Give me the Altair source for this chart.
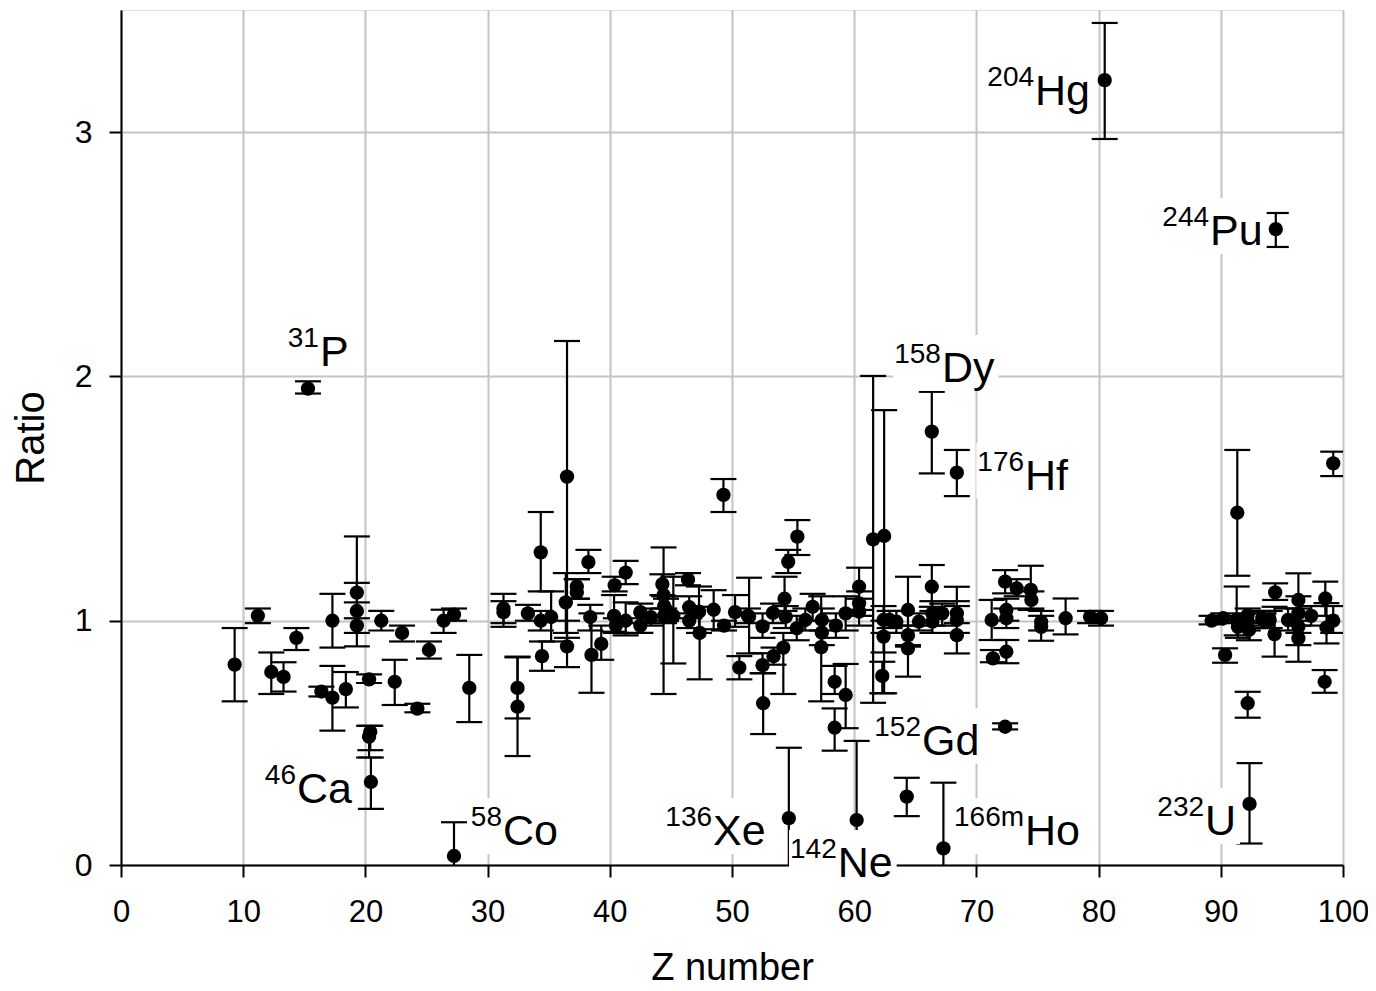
import altair as alt
import pandas as pd

# ---- data ----
z = [9.3, 11.2, 12.3, 13.3, 14.35, 15.3, 16.4, 17.3, 17.3, 18.4, 19.3, 19.3, 19.3, 20.3, 20.4, 20.3, 20.45,
     21.3, 22.4, 23.0, 24.25, 25.2, 26.4, 27.25, 27.25, 28.5,
     31.3, 31.3, 32.45, 32.45, 33.3, 34.35, 34.35, 34.45, 35.2, 36.5, 36.4, 36.5, 37.3, 37.3, 38.25, 38.4, 38.5,
     39.3, 40.4, 40.35, 40.5, 41.3, 41.3, 42.5, 42.5, 43.35, 44.3, 44.4, 44.45, 44.45, 44.6, 45.2, 46.4, 46.5,
     46.5, 47.3, 47.35, 48.5, 49.3, 49.35, 50.25, 50.6, 51.4, 51.3, 52.5, 52.5, 52.55, 53.35, 53.4, 54.2, 54.3,
     54.4, 54.6, 54.65, 55.35, 55.3, 56.0, 56.6, 57.35, 57.35, 57.3, 58.5, 58.4, 58.4, 59.3, 59.3, 60.2, 60.4,
     60.4, 60.4, 61.55, 62.45, 62.4, 62.4, 62.3, 62.9, 63.45, 64.4, 64.4, 64.4, 64.3, 65.3, 66.35, 66.35, 66.4,
     66.4, 67.2, 67.3, 68.4, 68.4, 68.4, 68.4, 71.25, 71.35, 72.35, 72.45, 72.45, 72.45, 72.35, 73.3, 74.45,
     74.5, 75.3, 75.3, 77.3, 79.3, 80.2, 80.5,
     89.25, 90.2, 90.35, 91.35, 91.3, 91.4, 92.2, 92.2, 92.3, 92.2, 92.35, 93.4, 93.5, 94.0, 94.5, 94.45, 94.4,
     95.5, 96.35, 96.35, 96.35, 96.35, 97.4, 98.55, 98.65, 98.5, 99.2, 99.2]
ratio = [0.82, 1.02, 0.79, 0.77, 0.93, 1.95, 0.71, 0.685, 1.00, 0.72, 1.115, 1.04, 0.98, 0.76, 0.545, 0.525, 0.34,
         1.00, 0.75, 0.95, 0.64, 0.88, 1.00, 1.025, 0.037, 0.725,
         1.05, 1.035, 0.725, 0.648, 1.03, 1.28, 1.00, 0.855, 1.015, 1.59, 1.075, 0.895, 1.14, 1.115, 1.24, 1.015, 0.86,
         0.905, 1.145, 1.02, 0.98, 1.197, 1.0, 1.035, 0.98, 1.015, 1.15, 1.105, 1.06, 1.02, 1.045, 1.02, 1.168, 1.055,
         1.0, 1.037, 0.95, 1.045, 1.515, 0.98, 1.035, 0.808, 1.016, 1.02, 0.977, 0.818, 0.662, 1.032, 0.855, 0.89, 1.09,
         1.016, 1.241, 0.192, 1.344, 0.969, 1.003, 1.057, 1.003, 0.951, 0.892, 0.98, 0.75, 0.562, 1.03, 0.696, 0.184, 1.139,
         1.071, 1.037, 1.333, 1.347, 1.003, 0.935, 0.774, 1.003, 0.996, 1.044, 0.941, 0.887, 0.28, 0.996, 1.774, 1.139, 1.03,
         0.996, 1.03, 0.068, 1.606, 1.03, 1.003, 0.941, 1.003, 0.846, 1.16, 1.044, 1.01, 0.873, 0.566, 1.132, 1.126,
         1.085, 0.996, 0.975, 1.01, 1.016, 1.01, 3.213,
         1.0, 1.01, 0.86, 1.442, 1.003, 0.975, 0.996, 1.023, 0.962, 0.662, 0.25, 1.01, 1.003, 1.003, 2.603, 1.116, 0.945,
         1.003, 1.085, 1.03, 0.975, 0.928, 1.02, 1.091, 0.972, 0.75, 1.0, 1.644]
lo = [0.67, 0.99, 0.70, 0.71, 0.88, 1.93, 0.69, 0.55, 0.89, 0.645, 1.075, 0.895, 0.95, 0.745, 0.47, 0.44, 0.23,
      0.96, 0.655, 0.915, 0.625, 0.845, 0.95, 1.0, -0.1, 0.585,
      0.975, 0.99, 0.60, 0.446, 1.0, 1.12, 0.96, 0.795, 0.915, 0.93, 0.95, 0.81, 1.09, 1.09, 1.195, 0.96, 0.705,
      0.84, 1.12, 0.955, 0.95, 1.15, 0.94, 0.99, 0.95, 0.98, 1.105, 0.70, 1.02, 0.99, 1.0, 0.825, 1.145, 1.01,
      0.97, 0.95, 0.76, 0.965, 1.445, 0.96, 0.975, 0.76, 0.866, 0.99, 0.93, 0.785, 0.536, 0.99, 0.82, 0.70, 1.04,
      0.97, 1.195, -0.1, 1.269, 0.92, 0.96, 1.0, 0.96, 0.90, 0.67, 0.93, 0.70, 0.468, 0.96, 0.56, -0.1, 1.044,
      1.02, 0.98, 0.664, 0.703, 0.95, 0.87, 0.703, 0.97, 0.95, 0.894, 0.90, 0.771, 0.2, 0.96, 1.603, 1.057, 0.98,
      0.95, 0.98, -0.1, 1.51, 0.99, 0.95, 0.866, 0.921, 0.83, 1.112, 1.0, 0.97, 0.826, 0.555, 1.10, 1.044,
      1.05, 0.96, 0.918, 0.944, 0.99, 0.98, 2.972,
      0.985, 0.99, 0.828, 1.184, 0.94, 0.93, 0.96, 0.99, 0.92, 0.603, 0.088, 0.98, 0.97, 0.97, 2.53, 1.085, 0.853,
      0.96, 0.98, 0.95, 0.90, 0.832, 0.98, 1.02, 0.907, 0.705, 0.95, 1.592]
hi = [0.97, 1.05, 0.87, 0.83, 0.97, 1.98, 0.73, 0.815, 1.11, 0.79, 1.155, 1.345, 1.01, 0.78, 0.57, 0.57, 0.44,
      1.04, 0.84, 0.98, 0.66, 0.915, 1.045, 1.05, 0.175, 0.86,
      1.11, 1.08, 0.853, 0.85, 1.065, 1.445, 1.04, 0.915, 1.12, 2.145, 1.195, 1.0, 1.17, 1.17, 1.29, 1.065, 1.03,
      0.98, 1.18, 1.105, 1.01, 1.245, 1.075, 1.07, 1.01, 1.05, 1.19, 1.30, 1.10, 1.05, 1.09, 1.18, 1.195, 1.10,
      1.03, 1.14, 1.057, 1.125, 1.58, 1.0, 1.105, 0.855, 1.176, 1.05, 1.03, 0.867, 0.785, 1.07, 0.89, 0.95, 1.18,
      1.06, 1.29, 0.48, 1.412, 1.02, 1.05, 1.11, 1.05, 1.0, 1.1, 1.03, 0.815, 0.641, 1.10, 0.823, 0.508, 1.217,
      1.12, 1.09, 2.002, 1.862, 1.06, 1.0, 0.832, 1.04, 1.04, 1.18, 0.98, 0.98, 0.357, 1.03, 1.937, 1.228, 1.08,
      1.04, 1.07, 0.337, 1.699, 1.08, 1.06, 1.139, 1.085, 0.88, 1.207, 1.09, 1.05, 0.921, 0.58, 1.17, 1.225,
      1.12, 1.04, 1.02, 1.091, 1.04, 1.04, 3.447,
      1.02, 1.03, 0.887, 1.699, 1.14, 1.02, 1.03, 1.05, 1.0, 0.709, 0.417, 1.04, 1.03, 1.04, 2.669, 1.153, 1.057,
      1.05, 1.194, 1.10, 1.05, 1.0, 1.06, 1.160, 1.072, 0.798, 1.06, 1.692]

# annotation labels: mass number (superscript), element, anchor position
lab_mass = ["204", "244", "31", "158", "176", "152", "46", "58", "136", "142", "166m", "232"]
lab_elem = ["Hg", "Pu", "P", "Dy", "Hf", "Gd", "Ca", "Co", "Xe", "Ne", "Ho", "U"]
lab_x = [74.8, 89.12, 16.28, 67.18, 73.98, 65.55, 14.4, 31.26, 48.45, 58.65, 73.98, 88.71]
lab_y = [3.111, 2.538, 2.043, 1.977, 1.535, 0.450, 0.254, 0.082, 0.082, -0.049, 0.082, 0.123]

# ---- layout ----
W, H = 1222, 855
XMAX, YMAX = 100, 3.5
SUP_FS, EL_FS = 28, 43
px_x = W / XMAX
px_y = H / YMAX

cw = {"H": .722, "g": .556, "P": .667, "u": .556, "D": .722, "y": .5, "f": .278, "G": .778, "d": .556,
      "C": .722, "a": .556, "o": .556, "X": .667, "e": .556, "N": .722, "m": .833, "U": .722}


def tw(s, fs):
    return sum(cw.get(c, .556) for c in s) * fs


df = pd.DataFrame({"z": z, "ratio": ratio, "lo": lo, "hi": hi})
lab = pd.DataFrame({"mass": lab_mass, "elem": lab_elem, "x": lab_x, "y": lab_y})
lab["bx1"] = lab["x"] - (lab["mass"].map(lambda s: tw(s, SUP_FS)) + 2) / px_x
lab["bx2"] = lab["x"] + (lab["elem"].map(lambda s: tw(s, EL_FS)) + 4) / px_x
lab["by1"] = lab["y"] - 9 / px_y
lab["by2"] = lab["y"] + 47 / px_y

xs = alt.Scale(domain=[0, XMAX], nice=False, zero=False)
ys = alt.Scale(domain=[0, YMAX], nice=False, zero=False)

FONT = "Liberation Sans"

xaxis = alt.Axis(values=list(range(0, 101, 10)), format="d", title="Z number", grid=True, gridColor="#c4c4c4",
                 gridWidth=2, domainColor="black", domainWidth=2, tickColor="black", tickWidth=2,
                 tickSize=12, labelFont=FONT, labelFontSize=31, labelColor="black", labelPadding=20,
                 titleFont=FONT, titleFontSize=38, titleFontWeight="normal", titleColor="black",
                 titlePadding=22, labelFlush=False)
yaxis = alt.Axis(values=[0, 1, 2, 3], format="d", title="Ratio", grid=True, gridColor="#c4c4c4",
                 gridWidth=2, domainColor="black", domainWidth=2, tickColor="black", tickWidth=2,
                 tickSize=12, labelFont=FONT, labelFontSize=32, labelColor="black", labelPadding=17,
                 titleFont=FONT, titleFontSize=40, titleFontWeight="normal", titleColor="black",
                 titleX=-90, titleY=H / 2, titleBaseline="middle", titleAngle=270, labelFlush=False)

base = alt.Chart(df)
bars = base.mark_rule(color="black", strokeWidth=2.2, clip=True).encode(
    x=alt.X("z:Q", scale=xs, axis=xaxis), y=alt.Y("lo:Q", scale=ys, axis=yaxis), y2="hi:Q")
cap_lo = base.mark_tick(orient="horizontal", color="black", size=26, thickness=2.2, opacity=1, clip=True).encode(
    x=alt.X("z:Q", scale=xs), y=alt.Y("lo:Q", scale=ys))
cap_hi = base.mark_tick(orient="horizontal", color="black", size=26, thickness=2.2, opacity=1, clip=True).encode(
    x=alt.X("z:Q", scale=xs), y=alt.Y("hi:Q", scale=ys))
pts = base.mark_circle(size=205, color="black", opacity=1).encode(
    x=alt.X("z:Q", scale=xs), y=alt.Y("ratio:Q", scale=ys))

lbase = alt.Chart(lab)
boxes = lbase.mark_rect(color="white", opacity=1).encode(
    x=alt.X("bx1:Q", scale=xs), x2="bx2:Q", y=alt.Y("by1:Q", scale=ys), y2="by2:Q")
t_el = lbase.mark_text(font=FONT, fontSize=EL_FS, align="left", baseline="alphabetic", color="black").encode(
    x=alt.X("x:Q", scale=xs), y=alt.Y("y:Q", scale=ys), text="elem:N")
t_sup = lbase.mark_text(font=FONT, fontSize=SUP_FS, align="right", baseline="alphabetic", color="black",
                        dy=-19, dx=-1).encode(
    x=alt.X("x:Q", scale=xs), y=alt.Y("y:Q", scale=ys), text="mass:N")

chart = alt.layer(bars, cap_lo, cap_hi, pts, boxes, t_el, t_sup).properties(
    width=W, height=H,
    autosize=alt.AutoSizeParams(type="none"),
    padding={"left": 113, "top": 2, "right": 25, "bottom": 130},
).configure_view(stroke="black", strokeWidth=2).configure(background="white")

chart.save("out.html", embed_options={"renderer": "svg", "actions": False})
